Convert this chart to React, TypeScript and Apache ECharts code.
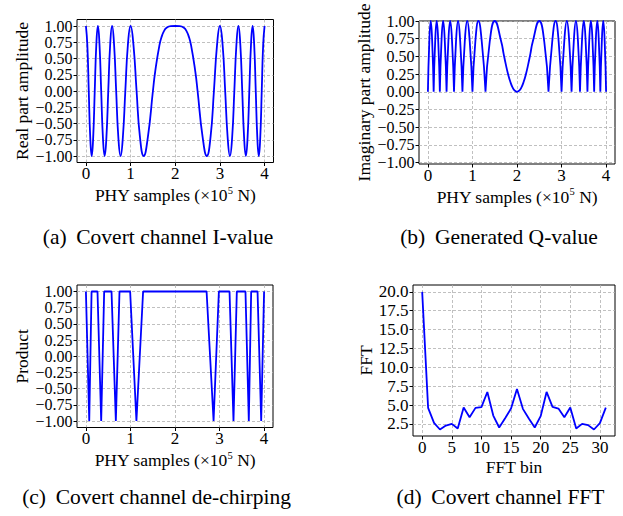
import React, { useEffect, useRef } from 'react';
import * as echarts from 'echarts';

// ---------- tick labels ----------
const phyTicks = [0, 1, 2, 3, 4];
const ampTicks = [-1, -0.75, -0.5, -0.25, 0, 0.25, 0.5, 0.75, 1];
const fftBinTicks = [0, 5, 10, 15, 20, 25, 30];
const fftTicks = [2.5, 5, 7.5, 10, 12.5, 15, 17.5, 20];

// ---------- captions ----------
const captions = [
  '(a) \u2009Covert channel I-value',
  '(b) \u2009Generated Q-value',
  '(c) \u2009Covert channel de-chirping',
  '(d) \u2009Covert channel FFT',
];

// ---------- (a) I-value: [sample (x1e5), amplitude] ----------
const iValue: [number, number][] = [
  [0, 1], [0.0315, 0.707], [0.0635, 0], [0.0961, -0.707], [0.1292, -1], [0.1629, -0.707],
  [0.1972, 0], [0.2322, 0.707], [0.2679, 1], [0.3044, 0.707], [0.3417, 0], [0.3798, -0.707],
  [0.4189, -1], [0.4589, -0.707], [0.5, 0], [0.5423, 0.707], [0.5858, 1], [0.6307, 0.707],
  [0.6771, 0], [0.7252, -0.707], [0.7753, -1], [0.8274, -0.707], [0.882, 0], [0.9393, 0.707],
  [1.0, 1], [1.0646, 0.707], [1.134, 0], [1.2094, -0.707], [1.2929, -1], [1.3876, -0.707],
  [1.5, 0], [1.55, 0.294], [1.6464, 0.707], [1.7, 0.844], [1.75, 0.924], [1.8, 0.969],
  [1.9, 0.998], [2.0, 1],
  [2.1, 0.998], [2.2, 0.969], [2.25, 0.924], [2.3, 0.844], [2.3536, 0.707], [2.45, 0.294],
  [2.5, 0], [2.6124, -0.707], [2.7071, -1], [2.7906, -0.707], [2.866, 0], [2.9354, 0.707],
  [3.0, 1], [3.0607, 0.707], [3.118, 0], [3.1726, -0.707], [3.2247, -1], [3.2748, -0.707],
  [3.3229, 0], [3.3693, 0.707], [3.4142, 1], [3.4577, 0.707], [3.5, 0], [3.5411, -0.707],
  [3.5811, -1], [3.6202, -0.707], [3.6583, 0], [3.6956, 0.707], [3.7321, 1], [3.7678, 0.707],
  [3.8028, 0], [3.8371, -0.707], [3.8708, -1], [3.9039, -0.707], [3.9365, 0], [3.9685, 0.707],
  [4.0, 1],
];

// ---------- (b) Q-value: lobes separated by breaks ('-') ----------
const qValue: any[] = [
  [0, 0], [0.0315, 0.707], [0.0635, 1], [0.0961, 0.707], [0.1292, 0], [0.1292, '-'],
  [0.1292, 0], [0.1629, 0.707], [0.1972, 1], [0.2322, 0.707], [0.2679, 0], [0.2679, '-'],
  [0.2679, 0], [0.3044, 0.707], [0.3417, 1], [0.3798, 0.707], [0.4189, 0], [0.4189, '-'],
  [0.4189, 0], [0.4589, 0.707], [0.5, 1], [0.5423, 0.707], [0.5858, 0], [0.5858, '-'],
  [0.5858, 0], [0.6307, 0.707], [0.6771, 1], [0.7252, 0.707], [0.7753, 0], [0.7753, '-'],
  [0.7753, 0], [0.8274, 0.707], [0.882, 1], [0.9393, 0.707], [1.0, 0], [1.0, '-'],
  [1.0, 0], [1.0646, 0.707], [1.134, 1], [1.2094, 0.707], [1.2929, 0], [1.2929, '-'],
  [1.2929, 0], [1.3876, 0.707], [1.5, 1], [1.6464, 0.707], [1.7, 0.536], [1.75, 0.383],
  [1.8, 0.249], [1.85, 0.141], [1.9, 0.063], [1.95, 0.016], [2.0, 0], [2.05, 0.016],
  [2.1, 0.063], [2.15, 0.141], [2.2, 0.249], [2.25, 0.383], [2.3, 0.536], [2.3536, 0.707],
  [2.5, 1], [2.6124, 0.707], [2.7071, 0], [2.7071, '-'],
  [2.7071, 0], [2.7906, 0.707], [2.866, 1], [2.9354, 0.707], [3.0, 0], [3.0, '-'],
  [3.0, 0], [3.0607, 0.707], [3.118, 1], [3.1726, 0.707], [3.2247, 0], [3.2247, '-'],
  [3.2247, 0], [3.2748, 0.707], [3.3229, 1], [3.3693, 0.707], [3.4142, 0], [3.4142, '-'],
  [3.4142, 0], [3.4577, 0.707], [3.5, 1], [3.5411, 0.707], [3.5811, 0], [3.5811, '-'],
  [3.5811, 0], [3.6202, 0.707], [3.6583, 1], [3.6956, 0.707], [3.7321, 0], [3.7321, '-'],
  [3.7321, 0], [3.7678, 0.707], [3.8028, 1], [3.8371, 0.707], [3.8708, 0], [3.8708, '-'],
  [3.8708, 0], [3.9039, 0.707], [3.9365, 1], [3.9685, 0.707], [4.0, 0],
];

// ---------- (c) de-chirping product ----------
const product: [number, number][] = [
  [0, 1], [0.075, -1], [0.127, 1], [0.26, 1], [0.343, -1], [0.41, 1],
  [0.575, 1], [0.672, -1], [0.754, 1], [0.993, 1], [1.134, -1], [1.284, 1],
  [2.709, 1], [2.866, -1], [2.985, 1], [3.224, 1], [3.313, -1], [3.388, 1],
  [3.582, 1], [3.657, -1], [3.71, 1], [3.853, 1], [3.935, -1], [4.0, 1],
];

// ---------- (d) FFT ----------
const fftBins = [0, 1, 2, 3, 4, 5, 6, 7, 8, 9, 10, 11, 12, 13, 14, 15, 16, 17, 18, 19, 20, 21, 22, 23, 24, 25, 26, 27, 28, 29, 30, 31];
const fftValues = [20.0, 4.62, 2.64, 1.75, 2.28, 2.5, 1.89, 4.66, 3.38, 4.62, 4.71, 6.73, 3.6, 2.02, 3.25, 4.53,
  7.13, 4.49, 3.2, 2.02, 3.52, 6.73, 4.75, 4.53, 3.38, 4.66, 1.89, 2.5, 2.33, 1.75, 2.6, 4.66];

const FONT = '"Liberation Serif", "Times New Roman", Times, serif';
const AMP_FS = 16;
const TICK_FS = 17;
const NAME_FS = 17.5;
const CAP_FS = 21.5;
const BLUE = '#0000ff';

const fmt2 = (v: number) => (v < 0 ? '\u2212' : '') + Math.abs(v).toFixed(2);
const fmt1 = (v: number) => (v < 0 ? '\u2212' : '') + Math.abs(v).toFixed(1);
const fmt0 = (v: number) => String(Math.round(v));

const splitLine = { show: true, lineStyle: { color: '#b0b0b0', type: [3, 2], width: 0.8 } };

function xAxis(gridIndex: number, min: number, max: number, ticks: number[], name: string, nameGap: number) {
  return {
    type: 'value', gridIndex, min, max, name, nameLocation: 'middle', nameGap,
    nameTextStyle: {
      fontFamily: FONT, fontSize: NAME_FS, color: '#000', lineHeight: 21,
      rich: { sup: { fontFamily: FONT, fontSize: 10.5, color: '#000', verticalAlign: 'top', lineHeight: 11 } },
    },
    axisLine: { show: false, onZero: false },
    axisTick: { show: true, inside: false, length: 3.5, lineStyle: { color: '#000', width: 1 }, customValues: ticks },
    axisLabel: {
      customValues: ticks, color: '#000', fontFamily: FONT, fontSize: TICK_FS, margin: 2.5,
      formatter: fmt0, showMinLabel: true, showMaxLabel: true, hideOverlap: false,
    },
    splitLine,
  };
}

function yAxis(gridIndex: number, min: number, max: number, ticks: number[], name: string, nameGap: number, fmt: any, fs: number) {
  return {
    type: 'value', gridIndex, min, max, name, nameLocation: 'middle', nameGap,
    nameTextStyle: { fontFamily: FONT, fontSize: NAME_FS, color: '#000' },
    axisLine: { show: false, onZero: false },
    axisTick: { show: true, inside: false, length: 3.5, lineStyle: { color: '#000', width: 1 }, customValues: ticks },
    axisLabel: {
      customValues: ticks, color: '#000', fontFamily: FONT, fontSize: fs, margin: 4.5,
      formatter: fmt, showMinLabel: true, showMaxLabel: true, hideOverlap: false,
    },
    splitLine,
  };
}

const PHY_NAME = 'PHY samples (\u00d710{sup|5} N)';

export default function App() {
  const ref = useRef<HTMLDivElement>(null);
  useEffect(() => {
    if (!ref.current) return;
    const chart = echarts.init(ref.current, undefined, { renderer: 'svg' });
    const gridStyle = { show: true, borderColor: '#000', borderWidth: 1, backgroundColor: 'transparent', containLabel: false };
    const capStyle = { fontFamily: FONT, fontSize: CAP_FS, fill: '#000', align: 'center', verticalAlign: 'middle' };
    const option: any = {
      animation: false,
      backgroundColor: '#fff',
      grid: [
        { ...gridStyle, left: 77, top: 19.5, width: 196.5, height: 143 },
        { ...gridStyle, left: 419, top: 21, width: 196, height: 143 },
        { ...gridStyle, left: 77, top: 285, width: 196, height: 142.5 },
        { ...gridStyle, left: 413, top: 285, width: 202, height: 151 },
      ],
      xAxis: [
        xAxis(0, -0.2, 4.2, phyTicks, PHY_NAME, 22),
        xAxis(1, -0.2, 4.2, phyTicks, PHY_NAME, 22),
        xAxis(2, -0.2, 4.2, phyTicks, PHY_NAME, 22),
        xAxis(3, -1.55, 32.55, fftBinTicks, 'FFT bin', 19),
      ],
      yAxis: [
        yAxis(0, -1.1, 1.1, ampTicks, 'Real part amplitude', 46, fmt2, AMP_FS),
        yAxis(1, -1.02, 1.0, ampTicks, 'Imaginary part amplitude', 46, fmt2, AMP_FS),
        yAxis(2, -1.1, 1.1, ampTicks, 'Product', 46, fmt2, AMP_FS),
        yAxis(3, 0.89, 20.91, fftTicks, 'FFT', 36, fmt1, TICK_FS),
      ],
      series: [
        { type: 'line', xAxisIndex: 0, yAxisIndex: 0, data: iValue, smooth: 0.5, showSymbol: false, lineStyle: { color: BLUE, width: 1.8 } },
        { type: 'line', xAxisIndex: 1, yAxisIndex: 1, data: qValue, smooth: 0.5, connectNulls: false, showSymbol: false, lineStyle: { color: BLUE, width: 1.8 } },
        { type: 'line', xAxisIndex: 2, yAxisIndex: 2, data: product, showSymbol: false, lineStyle: { color: BLUE, width: 1.8 } },
        { type: 'line', xAxisIndex: 3, yAxisIndex: 3, data: fftBins.map((b, i) => [b, fftValues[i]]), showSymbol: false, lineStyle: { color: BLUE, width: 1.8 } },
      ],
      graphic: [
        { type: 'text', x: 158, y: 236.5, style: { text: captions[0], ...capStyle } },
        { type: 'text', x: 499, y: 236.5, style: { text: captions[1], ...capStyle } },
        { type: 'text', x: 156.5, y: 497, style: { text: captions[2], ...capStyle } },
        { type: 'text', x: 500.5, y: 497, style: { text: captions[3], ...capStyle } },
      ],
    };
    chart.setOption(option);
    return () => chart.dispose();
  }, []);
  return <div ref={ref} style={{ position: 'absolute', left: 0, top: 0, width: 623, height: 516 }} />;
}
